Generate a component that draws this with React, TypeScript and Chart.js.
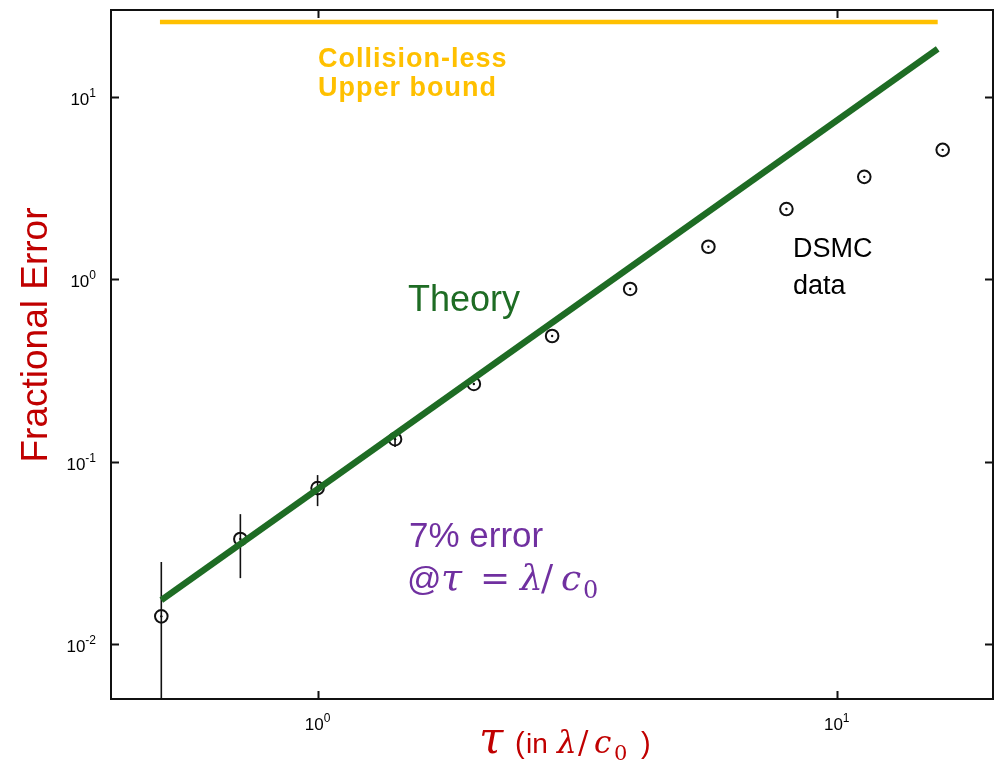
import React, { useEffect, useRef } from 'react';
import { Chart, registerables } from 'chart.js';

Chart.register(...registerables);

// ---- data ----
const tauValues = [0.5, 0.71, 1.0, 1.41, 2.0, 2.83, 4.0, 5.66, 8.0, 11.3, 16.0];
const errorValues = [0.0142, 0.0377, 0.0717, 0.133, 0.267, 0.489, 0.886, 1.51, 2.43, 3.65, 5.13];
const errorBarTau = [0.5, 0.71, 1.0, 1.41];
const errorBarLow = [0.003, 0.023, 0.0571, 0.1205];
const errorBarHigh = [0.0282, 0.0516, 0.0845, 0.1455];
const theoryTau = [0.5, 15.65];
const theoryError = [0.01743, 18.36];
const boundTau = [0.497, 15.65];
const boundError = [25.8, 25.8];
const xTickValues = [1, 10];
const xTickExponents = ['0', '1'];
const yTickValues = [0.01, 0.1, 1, 10];
const yTickExponents = ['-2', '-1', '0', '1'];

const GREEN = '#1E6C24';
const YELLOW = '#FFC000';
const RED = '#C00000';
const PURPLE = '#7030A0';
const SANS = '"Liberation Sans", Arial, sans-serif';
const SERIF = '"DejaVu Serif", "Liberation Serif", serif';

type Run = { t: string; font: string; x: number; dy?: number };

function drawRuns(ctx: CanvasRenderingContext2D, runs: Run[], y: number, color: string) {
  ctx.fillStyle = color;
  ctx.textAlign = 'left';
  ctx.textBaseline = 'alphabetic';
  for (const r of runs) {
    ctx.font = r.font;
    ctx.fillText(r.t, r.x, y + (r.dy || 0));
  }
}

const framePlugin = {
  id: 'frameAndLabels',
  beforeDatasetsDraw(chart: any) {
    const { ctx, chartArea: a, scales } = chart;
    ctx.save();
    ctx.strokeStyle = '#111';
    ctx.lineWidth = 2;
    ctx.strokeRect(a.left, a.top, a.right - a.left, a.bottom - a.top);
    ctx.beginPath();
    for (const v of xTickValues) {
      const px = Math.round(scales.x.getPixelForValue(v)) + 0.5;
      ctx.moveTo(px, a.bottom);
      ctx.lineTo(px, a.bottom - 8);
      ctx.moveTo(px, a.top);
      ctx.lineTo(px, a.top + 8);
    }
    for (const v of yTickValues) {
      const py = Math.round(scales.y.getPixelForValue(v)) + 0.5;
      ctx.moveTo(a.left, py);
      ctx.lineTo(a.left + 8, py);
      ctx.moveTo(a.right, py);
      ctx.lineTo(a.right - 8, py);
    }
    ctx.stroke();
    ctx.restore();
  },
  afterDraw(chart: any) {
    const { ctx, chartArea: a, scales } = chart;
    ctx.save();
    ctx.fillStyle = '#000';
    const baseFont = `17px ${SANS}`;
    const expFont = `12px ${SANS}`;
    // x tick labels
    xTickValues.forEach((v, i) => {
      const px = scales.x.getPixelForValue(v);
      ctx.font = baseFont;
      const wBase = ctx.measureText('10').width;
      ctx.font = expFont;
      const wExp = ctx.measureText(xTickExponents[i]).width;
      const x0 = px - (wBase + wExp) / 2;
      ctx.textAlign = 'left';
      ctx.textBaseline = 'alphabetic';
      ctx.font = baseFont;
      ctx.fillText('10', x0, a.bottom + 31);
      ctx.font = expFont;
      ctx.fillText(xTickExponents[i], x0 + wBase, a.bottom + 23);
    });
    // y tick labels
    yTickValues.forEach((v, i) => {
      const py = scales.y.getPixelForValue(v);
      ctx.font = expFont;
      const wExp = ctx.measureText(yTickExponents[i]).width;
      ctx.font = baseFont;
      const wBase = ctx.measureText('10').width;
      const right = a.left - 15;
      ctx.textAlign = 'left';
      ctx.textBaseline = 'alphabetic';
      ctx.fillText('10', right - wExp - wBase, py + 8);
      ctx.font = expFont;
      ctx.fillText(yTickExponents[i], right - wExp, py);
    });

    // y axis title
    ctx.save();
    ctx.translate(47, 335);
    ctx.rotate(-Math.PI / 2);
    ctx.font = `37px ${SANS}`;
    ctx.fillStyle = RED;
    ctx.textAlign = 'center';
    ctx.textBaseline = 'alphabetic';
    ctx.fillText('Fractional Error', 0, 0);
    ctx.restore();

    // x axis title
    drawRuns(ctx, [
      { t: 'τ', font: `italic 44px ${SERIF}`, x: 479 },
      { t: '(', font: `29px ${SANS}`, x: 515 },
      { t: 'in', font: `28px ${SANS}`, x: 526 },
      { t: 'λ', font: `italic 31px ${SERIF}`, x: 557 },
      { t: '/', font: `31px ${SERIF}`, x: 578 },
      { t: 'c', font: `italic 31px ${SERIF}`, x: 594 },
      { t: '0', font: `21px ${SERIF}`, x: 614, dy: 7 },
      { t: ')', font: `29px ${SANS}`, x: 641 },
    ], 753, RED);

    // annotations
    ctx.font = `bold 27px ${SANS}`;
    (ctx as any).letterSpacing = '1px';
    ctx.fillStyle = YELLOW;
    ctx.textAlign = 'left';
    ctx.fillText('Collision-less', 318, 67);
    ctx.fillText('Upper bound', 318, 96);
    (ctx as any).letterSpacing = '0px';

    ctx.font = `36px ${SANS}`;
    ctx.fillStyle = GREEN;
    ctx.fillText('Theory', 408, 311);

    ctx.font = `27px ${SANS}`;
    ctx.fillStyle = '#000';
    ctx.fillText('DSMC', 793, 257);
    ctx.fillText('data', 793, 294);

    ctx.font = `35px ${SANS}`;
    ctx.fillStyle = PURPLE;
    ctx.fillText('7% error', 409, 547);
    drawRuns(ctx, [
      { t: '@', font: `34px ${SANS}`, x: 407 },
      { t: 'τ', font: `italic 38px ${SERIF}`, x: 441 },
      { t: '=', font: `36px ${SERIF}`, x: 480 },
      { t: 'λ', font: `italic 36px ${SERIF}`, x: 520 },
      { t: '/', font: `36px ${SERIF}`, x: 541 },
      { t: 'c', font: `italic 36px ${SERIF}`, x: 561 },
      { t: '0', font: `24px ${SERIF}`, x: 583, dy: 8 },
    ], 590, PURPLE);
    ctx.restore();
  },
};

export default function App() {
  const ref = useRef<HTMLCanvasElement | null>(null);

  useEffect(() => {
    if (!ref.current) return;
    const points = tauValues.map((t, i) => ({ x: t, y: errorValues[i] }));
    const errorDatasets = errorBarTau.map((t, i) => ({
      label: `err${i}`,
      data: [{ x: t, y: errorBarLow[i] }, { x: t, y: errorBarHigh[i] }],
      showLine: true,
      borderColor: '#111',
      borderWidth: 1.6,
      pointRadius: 0,
      order: 3,
    }));
    const chart = new Chart(ref.current, {
      type: 'scatter',
      data: {
        datasets: [
          {
            label: 'Collision-less upper bound',
            data: boundTau.map((t, i) => ({ x: t, y: boundError[i] })),
            showLine: true,
            borderColor: YELLOW,
            borderWidth: 4.5,
            pointRadius: 0,
            order: 0,
          },
          {
            label: 'Theory',
            data: theoryTau.map((t, i) => ({ x: t, y: theoryError[i] })),
            showLine: true,
            borderColor: GREEN,
            borderWidth: 6.5,
            pointRadius: 0,
            order: 0,
          },
          {
            label: 'DSMC data',
            data: points,
            showLine: false,
            pointStyle: 'circle',
            pointRadius: 6.3,
            pointBorderWidth: 2,
            pointBorderColor: '#111',
            pointBackgroundColor: 'rgba(0,0,0,0)',
            order: 2,
          },
          {
            label: 'DSMC centre',
            data: points,
            showLine: false,
            pointRadius: 1.2,
            pointBorderWidth: 0,
            pointBackgroundColor: '#111',
            order: 2,
          },
          ...errorDatasets,
        ] as any,
      },
      options: {
        responsive: false,
        maintainAspectRatio: false,
        animation: false,
        layout: { autoPadding: false, padding: { top: 10, right: 2, left: 0, bottom: 0 } },
        plugins: { legend: { display: false }, tooltip: { enabled: false } },
        scales: {
          x: {
            type: 'logarithmic',
            min: 0.4,
            max: 20,
            grid: { display: false },
            border: { display: false },
            ticks: { display: false },
            afterFit: (s: any) => { s.height = 71; },
          },
          y: {
            type: 'logarithmic',
            min: 0.005,
            max: 30,
            grid: { display: false },
            border: { display: false },
            ticks: { display: false },
            afterFit: (s: any) => { s.width = 111; },
          },
        },
      } as any,
      plugins: [framePlugin],
    });
    return () => chart.destroy();
  }, []);

  return (
    <div style={{ position: 'fixed', left: 0, top: 0, width: 995, height: 770, background: '#fff' }}>
      <canvas ref={ref} width={995} height={770} style={{ width: 995, height: 770, display: 'block' }} />
    </div>
  );
}
